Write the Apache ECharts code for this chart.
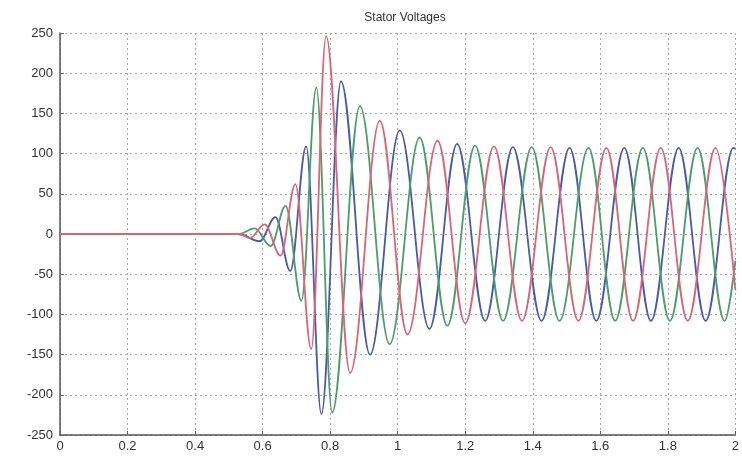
<!DOCTYPE html>
<html><head><meta charset="utf-8">
<script src="https://cdn.jsdelivr.net/npm/echarts@6/dist/echarts.min.js"></script>
<style>html,body{margin:0;padding:0;background:#fff}#c{width:742px;height:457px}</style>
</head><body><div id="c"></div>
<script>
const chartTitle = 'Stator Voltages';
const xMin = 0, xMax = 2, xStep = 0.2;
const yMin = -250, yMax = 250, yStep = 50;

// Extrema (peaks / troughs): time (s) and voltage (V)
const phaseA_t = [0, 0.529, 0.591, 0.638, 0.682, 0.729, 0.774, 0.832, 0.918, 1.006, 1.094, 1.176, 1.259, 1.341, 1.426, 1.509, 1.588, 1.671, 1.750, 1.832, 1.912, 1.994, 2.0];
const phaseA_v = [0, 0, -9, 21, -46, 109, -224, 190, -150, 129, -118, 112, -108, 108, -108, 107, -108, 107, -108, 107, -108, 107, 106];

const phaseB_t = [0, 0.529, 0.576, 0.624, 0.668, 0.715, 0.759, 0.806, 0.888, 0.976, 1.065, 1.147, 1.229, 1.312, 1.397, 1.479, 1.565, 1.644, 1.726, 1.806, 1.888, 1.968, 2.0];
const phaseB_v = [0, 0, 7, -15, 35, -83, 182, -222, 159, -137, 120, -114, 110, -108, 108, -108, 107, -108, 107, -108, 107, -108, -33];

const phaseC_t = [0, 0.529, 0.562, 0.606, 0.653, 0.697, 0.744, 0.788, 0.859, 0.947, 1.029, 1.118, 1.200, 1.285, 1.368, 1.453, 1.535, 1.618, 1.697, 1.779, 1.859, 1.941, 2.0];
const phaseC_v = [0, 0, -5, 12, -27, 62, -143, 246, -173, 141, -125, 116, -111, 109, -108, 108, -108, 107, -108, 107, -108, 107, -70];

const seriesColors = ['#4a5aa8', '#4c9e68', '#d9657a'];

function pairs(t, v) { return t.map((x, i) => [x, v[i]]); }

const chart = echarts.init(document.getElementById('c'), null, {renderer: 'canvas'});
const axisCommon = {
  axisLine: {show: true, onZero: false, lineStyle: {color: '#555', width: 1.5}},
  axisTick: {show: true, inside: true, length: 4, lineStyle: {color: '#666'}},
  axisLabel: {color: '#333', fontSize: 13, fontFamily: 'Liberation Sans, Arial, sans-serif'},
  splitLine: {show: true, lineStyle: {color: '#aaa', type: [2, 3], width: 1}}
};
const mk = (t, v, c) => ({
  type: 'line', data: pairs(t, v), showSymbol: false, smooth: 0.36, smoothMonotone: 'x',
  lineStyle: {color: c, width: 1.8}, itemStyle: {color: c}, animation: false
});
chart.setOption({
  animation: false,
  backgroundColor: '#fff',
  title: {text: chartTitle, left: 400, top: 7, textAlign: 'center',
    textStyle: {fontSize: 12, fontWeight: 'normal', color: '#333', fontFamily: 'Liberation Sans, Arial, sans-serif'}},
  grid: {left: 60, right: 2, top: 33, bottom: 22, containLabel: false},
  xAxis: Object.assign({type: 'value', min: xMin, max: xMax, interval: xStep}, axisCommon,
    {axisLabel: Object.assign({}, axisCommon.axisLabel, {margin: 5})}),
  yAxis: Object.assign({type: 'value', min: yMin, max: yMax, interval: yStep}, axisCommon,
    {axisLabel: Object.assign({}, axisCommon.axisLabel, {margin: 7})}),
  series: [
    mk(phaseA_t, phaseA_v, seriesColors[0]),
    mk(phaseB_t, phaseB_v, seriesColors[1]),
    mk(phaseC_t, phaseC_v, seriesColors[2])
  ]
});
</script></body></html>
